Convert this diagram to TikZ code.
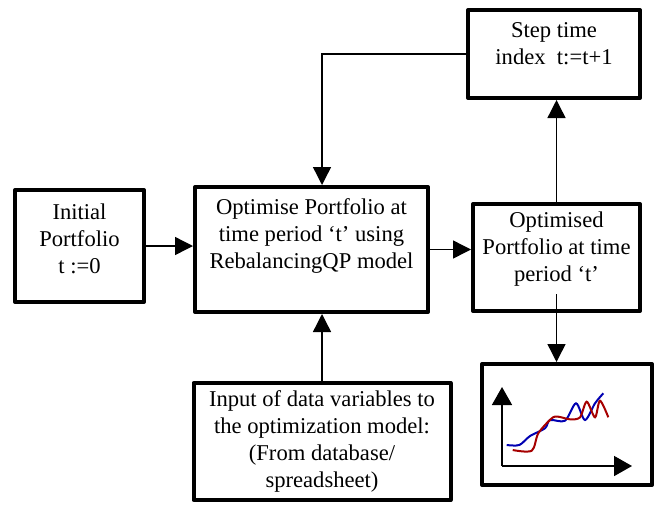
\documentclass[tikz,border=0pt]{standalone}
\usepackage{fontspec}
\setmainfont{Liberation Serif}
\usetikzlibrary{arrows.meta, positioning, calc}

\begin{document}
\begin{tikzpicture}[x=0.5pt, y=-0.5pt, >={Triangle[length=9pt, width=9pt]},
  every node/.style={font=\fontsize{11.3}{13.5}\selectfont},
  box/.style={draw, line width=2pt, line join=round, inner sep=0pt},
  txt/.style={align=center, inner sep=0pt},
  link/.style={->, line width=0.7pt},
  axis/.style={-{Triangle[length=9pt, width=10pt]}, line width=0.8pt}]
  \useasboundingbox (0,0) rectangle (667,504);

  \node[box, minimum width=64.5pt, minimum height=56pt] (init) at (79.5,246) {};
  \node[txt] (initT) at ([yshift=3.5pt]init.center) {Initial\\Portfolio\\t :=0};

  \node[box, minimum width=116.5pt, minimum height=62.5pt] (opt) at (311.5,249.5) {};
  \node[txt] (optT) at ([yshift=7pt]opt.center) {Optimise Portfolio at\\time period `t' using\\RebalancingQP model};

  \node[box, minimum width=83.5pt, minimum height=53.5pt] (res) at (556.5,257.5) {};
  \node[txt] (resT) at ([yshift=4pt]res.center) {Optimised\\Portfolio at time\\period `t'};

  \node[box, minimum width=86pt, minimum height=44pt] (step) at (554,54) {};
  \node[txt] (stepT) at ([yshift=5pt]step.center) {Step time\\index~\ t:=t+1};

  \node[box, minimum width=128.5pt, minimum height=58.5pt] (input) at (322,441.5) {};
  \node[txt] (inputT) at (input.center) {Input of data variables to\\the optimization model:\\(From database/\\spreadsheet)};

  \node[box, minimum width=85pt, minimum height=60.5pt] (chart) at (567,424.5) {};

  \draw[link] (init.east) -- (init.east -| opt.west);
  \draw[link] (opt.east) -- (opt.east -| res.west);
  \draw[link] (res.north) -- (res.north |- step.south);
  \draw[link] (step.west) -| (opt.north -| input.north);
  \draw[link] (input.north) -- (input.north |- opt.south);
  \draw[link] ([yshift=9.5pt]res.south) -- (res.south |- chart.north);

  \coordinate (o) at (502,466);
  \draw[axis] (o) -- (502,387);
  \draw[axis] (o) -- (632,466);
  \draw[blue!70!black, line width=1pt] plot[smooth, tension=0.5] coordinates {
    (506.7,445) (519.3,445) (530,436) (545,428.3) (550,420) (565,420.7)
    (576,403.3) (585,420) (595,403.3) (603.3,393.3)};
  \draw[red!65!black, line width=1pt] plot[smooth, tension=0.5] coordinates {
    (512.7,450) (531.7,450.7) (538.3,433.3) (551.7,418.3) (558.3,416.7)
    (570,419.3) (580,417.3) (586.7,401.7) (595,417.3) (600,400.7) (608.3,417.3)};
\end{tikzpicture}
\end{document}
